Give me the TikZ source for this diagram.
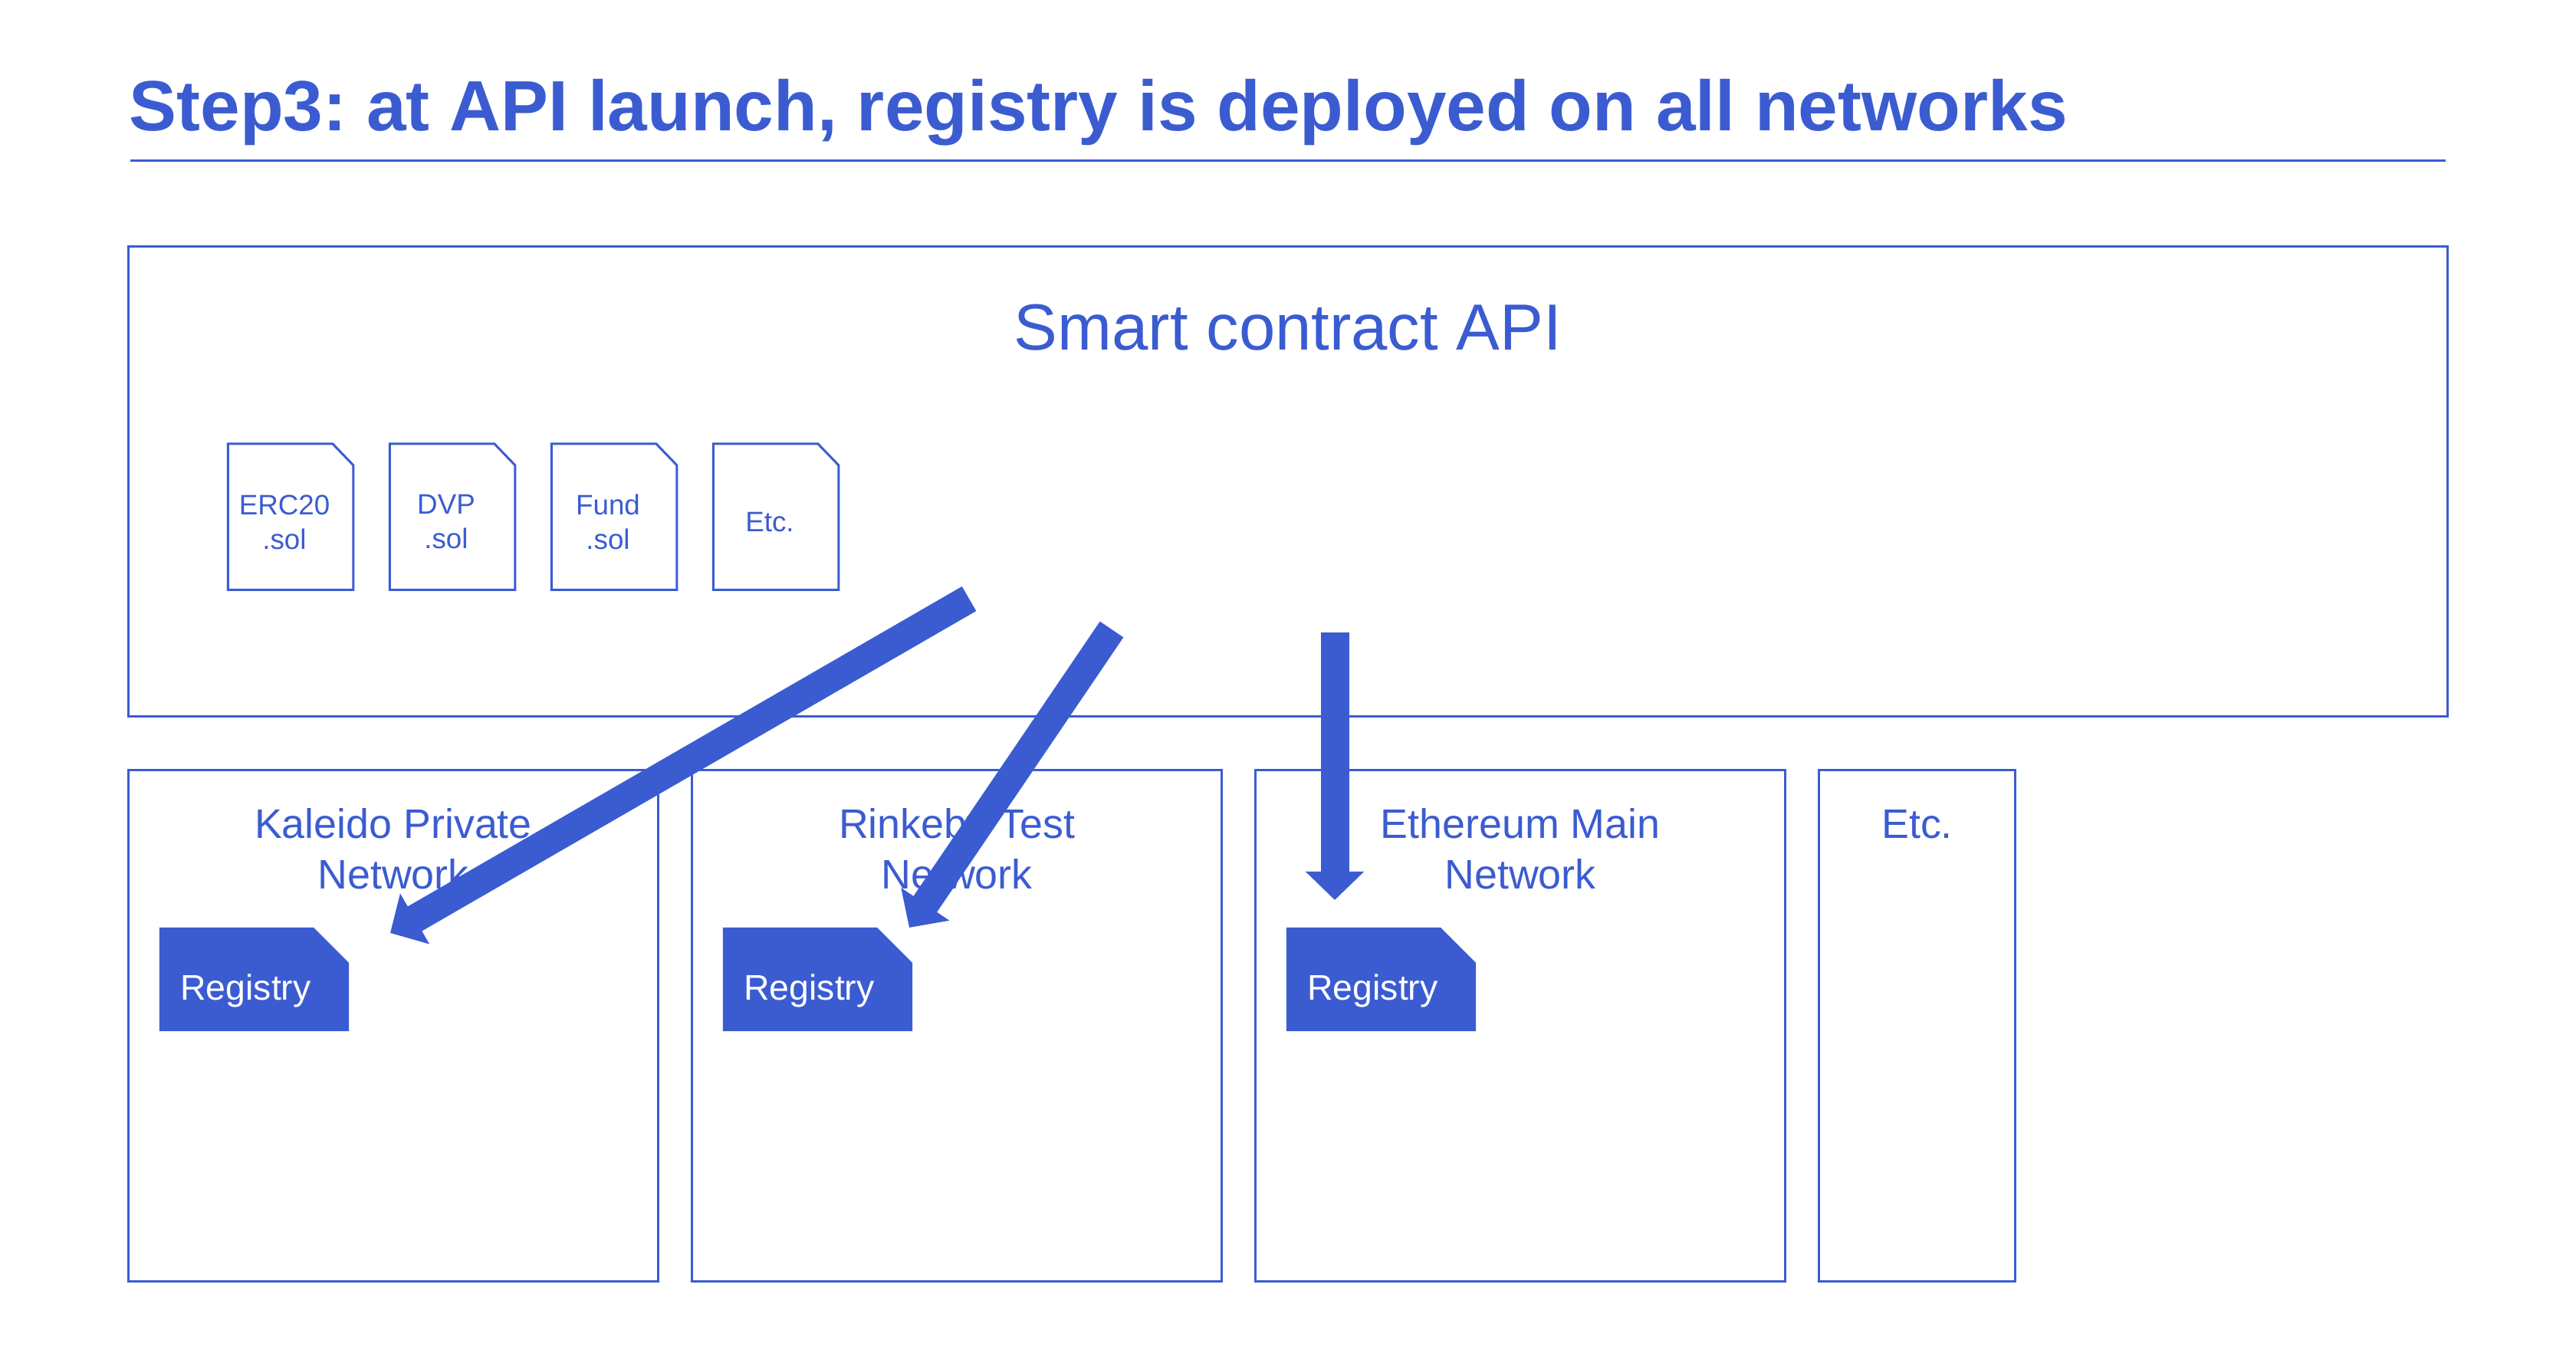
\documentclass[tikz,border=0pt]{standalone}
\usepackage{fontspec}
\setmainfont{Liberation Sans}
\frenchspacing
\usetikzlibrary{arrows.meta,positioning}

\definecolor{stepblue}{HTML}{3B5CD1}

\newcommand*{\xmin}{0}
\newcommand*{\xmax}{3360}
\newcommand*{\ymin}{0}
\newcommand*{\ymax}{1760}

\begin{document}
\begin{tikzpicture}
[
	x=0.01cm,y=-0.01cm,
	netbox/.style={rectangle,draw=stepblue,line width=0.03cm,inner sep=0pt,minimum height=6.66cm},
	nettext/.style={align=center,text=stepblue,font=\fontsize{15.3}{18.8}\selectfont,inner sep=0pt},
	doc/.style={rectangle,inner sep=0pt,minimum width=1.62cm,minimum height=1.89cm},
	doctext/.style={align=center,text=stepblue,font=\fontsize{10.45}{12.8}\selectfont,inner sep=0pt,xshift=-0.08cm,yshift=-0.07cm},
	registry/.style={rectangle,inner sep=0pt,minimum width=2.47cm,minimum height=1.35cm,
		path picture={\fill[stepblue] (path picture bounding box.north west) -- ([xshift=-0.46cm]path picture bounding box.north east) -- ([yshift=-0.46cm]path picture bounding box.north east) -- (path picture bounding box.south east) -- (path picture bounding box.south west) -- cycle;}},
	registrytext/.style={text=white,font=\fontsize{13.2}{16}\selectfont,inner sep=0pt,xshift=-0.11cm,yshift=-0.15cm},
	bigarrow/.style={-{Triangle[length=0.37cm,width=0.74cm]},line width=0.37cm,stepblue}
]

	\useasboundingbox (\xmin,\ymin) rectangle (\xmax,\ymax);

	% title
	\node[anchor=base west,inner sep=0pt,text=stepblue,font=\fontsize{26.4}{32}\selectfont\bfseries] (title) at (168,170) {Step3: at API launch, registry is deployed on all networks};
	\draw[stepblue,line width=0.03cm] (170,209) -- (3190,209);

	% api box
	\node[rectangle,draw=stepblue,line width=0.03cm,inner sep=0pt,minimum width=30.24cm,minimum height=6.12cm] (api) at (1680,628) {};
	\node[text=stepblue,font=\fontsize{24.2}{28}\selectfont,inner sep=0pt] (apitext) at (1680,427) {Smart contract API};

	% contract files
	\node[doc,label={[doctext]center:ERC20\\.sol}] (erc) at (379,674) {};
	\node[doc,label={[doctext]center:DVP\\.sol}] (dvp) at (590,674) {};
	\node[doc,label={[doctext]center:Fund\\.sol}] (fund) at (801,674) {};
	\node[doc,label={[doctext]center:Etc.}] (etcfile) at (1012,674) {};
	\foreach \docname in {erc,dvp,fund,etcfile}
		\draw[stepblue,line width=0.03cm] (\docname.north west) -- ([xshift=-0.27cm]\docname.north east) -- ([yshift=-0.28cm]\docname.north east) -- (\docname.south east) -- (\docname.south west) -- cycle;

	% networks
	\node[netbox,minimum width=6.90cm] (kaleido) at (513,1338) {};
	\node[netbox,minimum width=6.90cm] (rinkeby) at (1248,1338) {};
	\node[netbox,minimum width=6.90cm] (mainnet) at (1983,1338) {};
	\node[netbox,minimum width=2.55cm] (etcnet) at (2500.5,1338) {};

	\node[nettext,below=0.5cm of kaleido.north] (kaleidotext) {Kaleido Private\\Network};
	\node[nettext,below=0.5cm of rinkeby.north] (rinkebytext) {Rinkeby Test\\Network};
	\node[nettext,below=0.5cm of mainnet.north] (mainnettext) {Ethereum Main\\Network};
	\node[nettext,below=0.52cm of etcnet.north] (etcnettext) {Etc.};

	% registries
	\node[registry,label={[registrytext]center:Registry}] (regkaleido) at (331.5,1277.5) {};
	\node[registry,label={[registrytext]center:Registry}] (regrinkeby) at (1066.5,1277.5) {};
	\node[registry,label={[registrytext]center:Registry}] (regmainnet) at (1801.5,1277.5) {};

	% arrows
	\coordinate (fromkaleido) at (1264,781);
	\coordinate (tokaleido) at (509,1217);
	\coordinate (fromrinkeby) at (1450,821);
	\coordinate (torinkeby) at (1186,1210);
	\coordinate (frommainnet) at (1741,825);
	\coordinate (tomainnet) at (1741,1174);
	\draw[bigarrow] (fromkaleido) -- (tokaleido);
	\draw[bigarrow] (fromrinkeby) -- (torinkeby);
	\draw[bigarrow] (frommainnet) -- (tomainnet);

\end{tikzpicture}
\end{document}
